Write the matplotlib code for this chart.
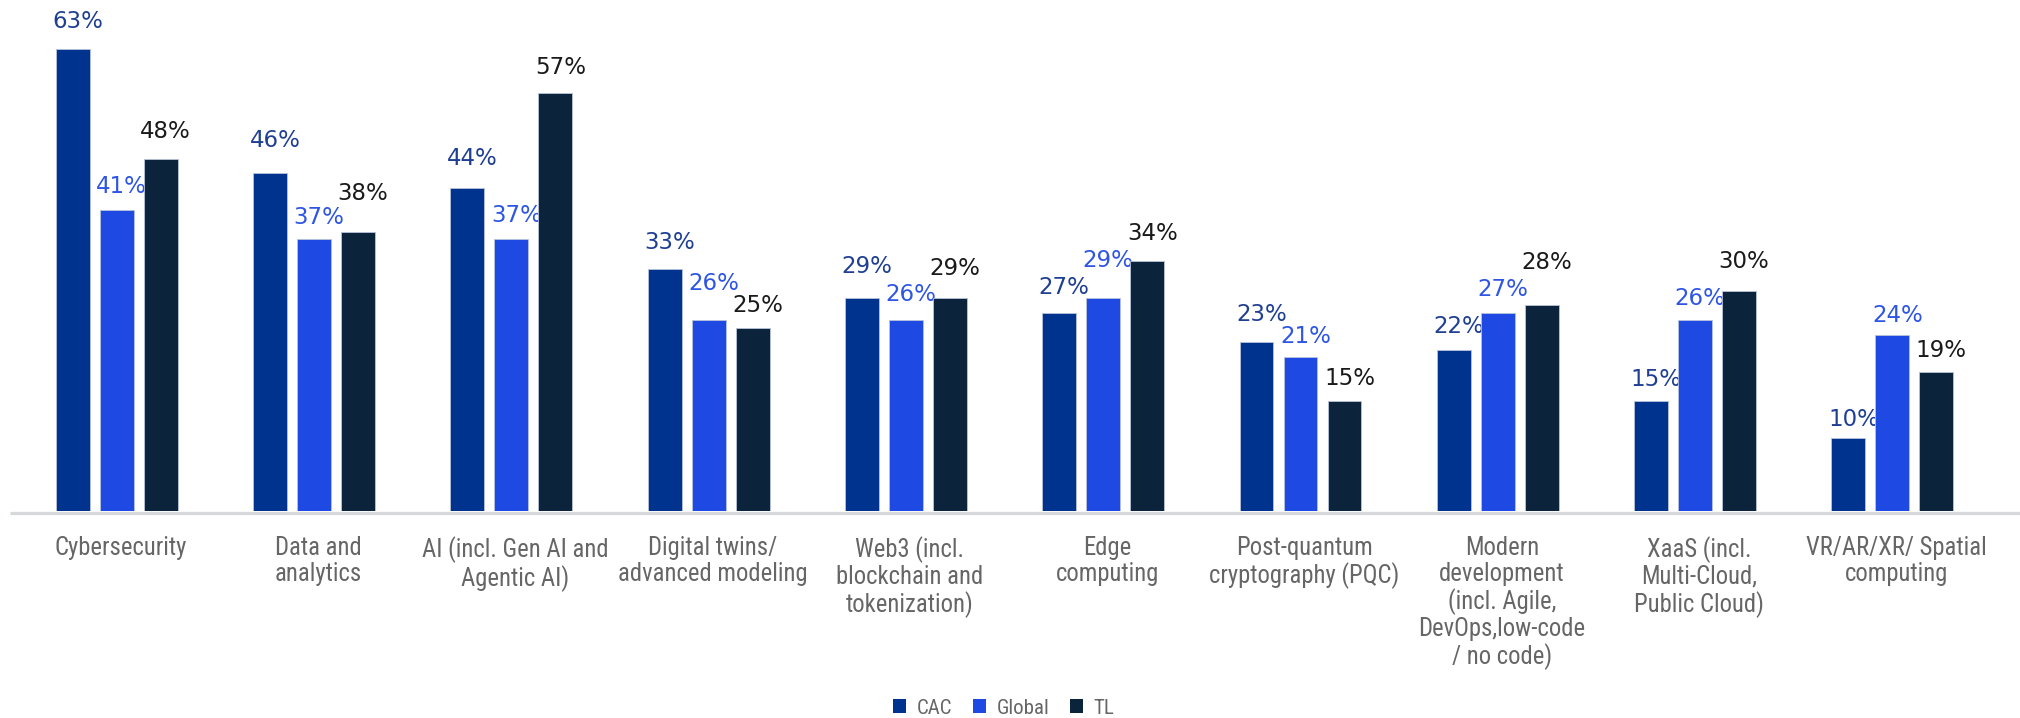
import matplotlib
matplotlib.use("Agg")
import matplotlib.pyplot as plt
from matplotlib.patches import Patch
from matplotlib.lines import Line2D
from matplotlib import font_manager as fm
from matplotlib.textpath import TextPath
import matplotlib.transforms as mtransforms
import numpy as np

categories = [
    "Cybersecurity",
    "Data and\nanalytics",
    "AI (incl. Gen AI and\nAgentic AI)",
    "Digital twins/\nadvanced modeling",
    "Web3 (incl.\nblockchain and\ntokenization)",
    "Edge\ncomputing",
    "Post-quantum\ncryptography (PQC)",
    "Modern\ndevelopment\n(incl. Agile,\nDevOps,low-code\n/ no code)",
    "XaaS (incl.\nMulti-Cloud,\nPublic Cloud)",
    "VR/AR/XR/ Spatial\ncomputing",
]
series_names = ["CAC", "Global", "TL"]
cac = [63, 46, 44, 33, 29, 27, 23, 22, 15, 10]
global_vals = [41, 37, 37, 26, 26, 29, 21, 27, 26, 24]
tl = [48, 38, 57, 25, 29, 34, 15, 28, 30, 19]

# distance (px) between each value label's baseline and its bar top
gap_cac = [21, 26, 23, 20, 25, 19, 21, 17, 15, 12]
gap_global = [17, 15, 17, 30, 19, 31, 14, 17, 15, 13]
gap_tl = [21, 32, 19, 15, 23, 21, 16, 36, 23, 15]

bar_colors = ["#00338D", "#1E49E2", "#0C233C"]
label_colors = ["#1F3F93", "#2E55E3", "#1A1A1A"]
text_gray = "#666666"

W, H, DPI = 2020, 718, 100
px = 72.0 / DPI  # points per pixel


def narrow_font():
    """Return FontProperties for the narrowest regular sans face installed."""
    entries = fm.fontManager.ttflist
    wanted = ["Liberation Sans Narrow", "Roboto Condensed", "Noto Sans Condensed",
              "Open Sans Condensed", "Arial Narrow"]
    regular = (400, "normal", "regular", "book")
    for name in wanted:
        for e in entries:
            if e.name == name and e.style == "normal" and e.weight in regular:
                return fm.FontProperties(fname=e.fname)
    for e in entries:
        if (e.stretch in ("condensed", "semi-condensed", "extra-condensed")
                and e.style == "normal" and e.weight in regular
                and "Mono" not in e.name and "Serif" not in e.name):
            return fm.FontProperties(fname=e.fname)
    return fm.FontProperties(family="Liberation Sans")


def fit_size(fp, sample, target_px, max_pt):
    """Font size (pt) that makes `sample` about target_px wide, capped at max_pt."""
    w = TextPath((0, 0), sample, size=100, prop=fp).get_extents().width
    size = target_px / (w / 100.0 * DPI / 72.0)
    return min(size, max_pt)


base_fp = narrow_font()
cat_size = fit_size(base_fp, "Cybersecurity", 130, 18.8)
leg_size = fit_size(base_fp, "Global", 52, 15.0)
cat_em_px = cat_size * DPI / 72.0
cat_ls = max(1.0, (25.0 / cat_em_px - 0.21) / 0.73)

fig = plt.figure(figsize=(W / DPI, H / DPI), dpi=DPI)

base_px = 511.0          # baseline row from top
group_px = 197.3         # spacing between category groups
first_px = 116.7         # centre of the first group
per_pct = 7.34           # pixels per percentage point

ax = fig.add_axes([0, (H - base_px) / H, 1, base_px / H])
ax.set_xlim(-first_px / group_px, (W - first_px) / group_px)
ax.set_ylim(0, base_px / per_pct)
ax.axis("off")

x = np.arange(len(categories))
step = 0.223
width = 0.172
all_vals = [cac, global_vals, tl]
all_gaps = [gap_cac, gap_global, gap_tl]

for i, (vals, gaps) in enumerate(zip(all_vals, all_gaps)):
    pos = x + (i - 1) * step
    ax.bar(pos, vals, width=width, color=bar_colors[i],
           edgecolor="#B9C3DA", linewidth=0.6, zorder=3)
    for xp, v, g in zip(pos, vals, gaps):
        ax.annotate(f"{v}%", xy=(xp, v), xytext=(5 * px, g * px),
                    textcoords="offset points", ha="center", va="baseline",
                    fontsize=16.5, color=label_colors[i],
                    family="DejaVu Sans")

# baseline rule
fig.add_artist(Line2D([10 / W, 1], [1 - 513 / H] * 2, lw=3.3 * px,
                      color="#D6D9DA", solid_capstyle="butt"))

# category labels below the baseline
cat_fp = base_fp.copy()
cat_fp.set_size(cat_size)
trans = mtransforms.blended_transform_factory(ax.transData, fig.transFigure)
for xi, cat in zip(x, categories):
    ax.text(xi + 4 / group_px, 1 - 536 / H, cat, transform=trans,
            ha="center", va="top", multialignment="center",
            fontproperties=cat_fp, color=text_gray,
            linespacing=cat_ls, clip_on=False)

leg_fp = base_fp.copy()
leg_fp.set_size(leg_size)
handles = [Patch(facecolor=c, edgecolor="none") for c in bar_colors]
fig.legend(handles, series_names, loc="center",
           bbox_to_anchor=(1004 / W, 1 - 708 / H), ncol=3, frameon=False,
           prop=leg_fp, labelcolor=text_gray,
           handlelength=13 / (leg_size / px), handleheight=13 / (leg_size / px),
           handletextpad=0.5, columnspacing=1.0, borderpad=0,
           borderaxespad=0)

fig.savefig("out.png", dpi=DPI)
